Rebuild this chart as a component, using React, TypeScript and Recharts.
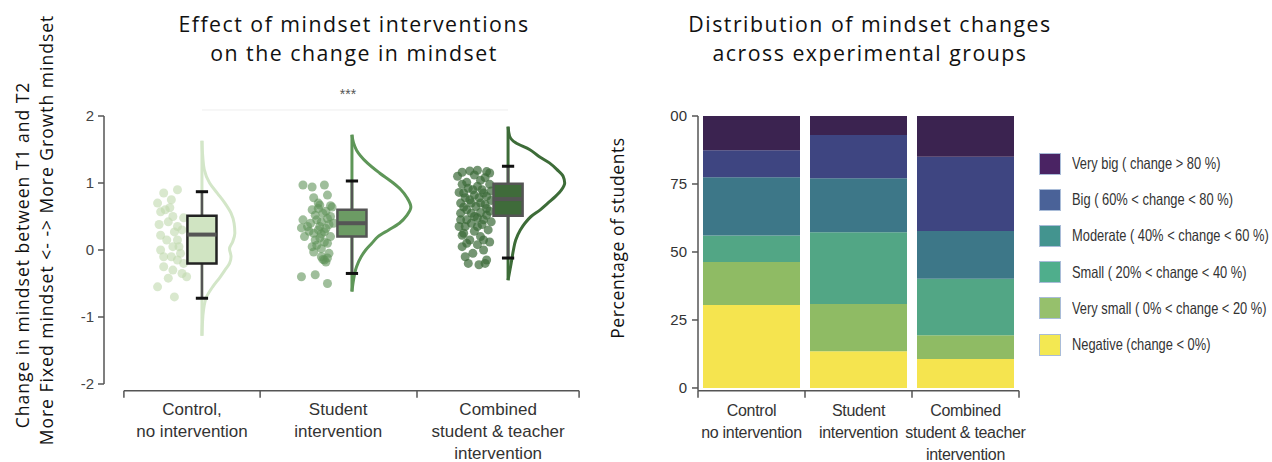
import React from 'react';
import {
  ComposedChart,
  Scatter,
  XAxis,
  YAxis,
  ReferenceArea,
  ReferenceLine,
  BarChart,
  Bar,
} from 'recharts';

// ---------- left panel: raincloud data ----------
const GROUP_LABELS = [
  ['Control,', 'no intervention'],
  ['Student', 'intervention'],
  ['Combined', 'student & teacher', 'intervention'],
];
const GROUP_CENTERS = [0, 0.98, 2.0];
const GROUP_EDGES = [-0.51, 0.38, 1.405, 2.464];
const LABEL_POS = [-0.065, 0.89, 1.935];
const Y_TICKS = [-2, -1, 0, 1, 2];
const SIG_Y = 2.09;

// [offset from group centre, change in mindset]
const controlPoints = [
  [-0.16, 0.9], [-0.25, 0.85], [-0.2, 0.75], [-0.29, 0.7], [-0.27, 0.57], [-0.21, 0.63],
  [-0.19, 0.5], [-0.12, 0.48], [-0.22, 0.42], [-0.16, 0.35], [-0.18, 0.27], [-0.27, 0.22],
  [-0.23, 0.15], [-0.16, 0.15], [-0.27, 0.0], [-0.19, 0.05], [-0.14, -0.05], [-0.25, -0.1],
  [-0.16, -0.15], [-0.12, -0.2], [-0.25, -0.25], [-0.19, -0.3], [-0.13, -0.35], [-0.1, -0.4],
  [-0.22, -0.42], [-0.29, -0.55], [-0.18, -0.7], [-0.24, 0.6], [-0.15, 0.05], [-0.2, -0.1],
  [-0.13, 0.3], [-0.28, 0.38],
];
const studentPoints = [
  [-0.32, 0.97], [-0.26, 0.94], [-0.18, 0.97], [-0.25, 0.78], [-0.16, 0.82], [-0.21, 0.67],
  [-0.13, 0.64], [-0.26, 0.6], [-0.19, 0.55], [-0.32, 0.45], [-0.23, 0.45], [-0.16, 0.47],
  [-0.29, 0.35], [-0.21, 0.35], [-0.33, 0.33], [-0.25, 0.25], [-0.18, 0.27], [-0.31, 0.2],
  [-0.21, 0.18], [-0.23, 0.07], [-0.16, 0.1], [-0.25, -0.03], [-0.2, -0.1], [-0.18, -0.15],
  [-0.16, -0.12], [-0.33, -0.4], [-0.24, -0.37], [-0.16, -0.5], [-0.22, 0.62], [-0.17, 0.58],
  [-0.24, 0.52], [-0.14, 0.5], [-0.2, 0.42], [-0.27, 0.4], [-0.15, 0.38], [-0.22, 0.3],
  [-0.17, 0.32], [-0.12, 0.4], [-0.28, 0.28], [-0.2, 0.24], [-0.14, 0.2], [-0.24, 0.15],
  [-0.18, 0.12], [-0.26, 0.05], [-0.2, 0.02], [-0.15, -0.05], [-0.22, 0.7], [-0.14, 0.66],
  [-0.19, -0.14], [-0.17, -0.18],
];
const combinedPoints = [
  [-0.3, 1.16], [-0.2, 1.19], [-0.14, 1.17], [-0.27, 1.01], [-0.18, 1.04], [-0.23, 0.9],
  [-0.29, 0.85], [-0.16, 0.85], [-0.25, 0.75], [-0.18, 0.7], [-0.29, 0.64], [-0.14, 0.62],
  [-0.31, 0.45], [-0.22, 0.5], [-0.16, 0.45], [-0.28, 0.35], [-0.2, 0.35], [-0.3, 0.22],
  [-0.16, 0.15], [-0.27, 0.1], [-0.23, -0.05], [-0.14, -0.15], [-0.26, -0.2], [-0.15, -0.2],
  [-0.25, 1.18], [-0.12, 1.15], [-0.33, 1.1], [-0.22, 1.12], [-0.15, 1.08], [-0.3, 0.98],
  [-0.12, 0.98], [-0.2, 0.95], [-0.26, 0.92], [-0.17, 0.9], [-0.11, 0.88], [-0.32, 0.86],
  [-0.22, 0.82], [-0.14, 0.8], [-0.28, 0.78], [-0.19, 0.78], [-0.11, 0.74], [-0.24, 0.7],
  [-0.31, 0.7], [-0.15, 0.68], [-0.21, 0.65], [-0.27, 0.6], [-0.12, 0.58], [-0.18, 0.56],
  [-0.24, 0.55], [-0.31, 0.55], [-0.14, 0.52], [-0.2, 0.48], [-0.27, 0.45], [-0.11, 0.42],
  [-0.24, 0.4], [-0.17, 0.38], [-0.32, 0.35], [-0.13, 0.3], [-0.22, 0.28], [-0.29, 0.25],
  [-0.18, 0.2], [-0.25, 0.15], [-0.12, 0.12], [-0.2, 0.08], [-0.3, 0.05], [-0.16, 0.0],
  [-0.28, -0.1], [-0.19, -0.22],
];

// half-violin outline: [change in mindset, density width]
const controlViolin = [
  [1.63, 0], [1.4, 0.005], [1.2, 0.015], [1.0, 0.05], [0.85, 0.1], [0.7, 0.15], [0.55, 0.19],
  [0.4, 0.21], [0.25, 0.215], [0.12, 0.2], [0.02, 0.18], [-0.1, 0.19], [-0.2, 0.18],
  [-0.3, 0.15], [-0.4, 0.12], [-0.55, 0.07], [-0.7, 0.03], [-0.9, 0.01], [-1.1, 0.003], [-1.28, 0],
];
const studentViolin = [
  [1.72, 0], [1.6, 0.01], [1.49, 0.03], [1.3, 0.1], [1.15, 0.18], [1.0, 0.27], [0.9, 0.32],
  [0.78, 0.36], [0.64, 0.385], [0.52, 0.36], [0.4, 0.31], [0.3, 0.24], [0.2, 0.17], [0.1, 0.13],
  [0.0, 0.09], [-0.1, 0.06], [-0.25, 0.03], [-0.45, 0.01], [-0.62, 0],
];
const combinedViolin = [
  [1.84, 0], [1.7, 0.01], [1.6, 0.05], [1.5, 0.14], [1.4, 0.2], [1.3, 0.27], [1.2, 0.32],
  [1.1, 0.36], [1.0, 0.37], [0.9, 0.35], [0.8, 0.31], [0.7, 0.26], [0.6, 0.21], [0.5, 0.15],
  [0.4, 0.11], [0.3, 0.08], [0.15, 0.05], [0.0, 0.035], [-0.2, 0.02], [-0.45, 0],
];

// [min, q1, median, q3, max]
const controlBox = [-0.72, -0.2, 0.23, 0.51, 0.87];
const studentBox = [-0.35, 0.2, 0.4, 0.6, 1.03];
const combinedBox = [-0.12, 0.51, 0.76, 0.99, 1.25];

const RAIN_STYLE = [
  { point: '#bfd9ae', pointOpacity: 0.6, box: '#d0e4c2', boxStroke: '#222', violin: '#d3e6c8' },
  { point: '#5f9358', pointOpacity: 0.6, box: '#6c9b64', boxStroke: '#555', violin: '#5e9658' },
  { point: '#3b6a37', pointOpacity: 0.7, box: '#3f6b3a', boxStroke: '#555', violin: '#3d6c38' },
];

const groups = [
  { points: controlPoints, violin: controlViolin, box: controlBox },
  { points: studentPoints, violin: studentViolin, box: studentBox },
  { points: combinedPoints, violin: combinedViolin, box: combinedBox },
];

// ---------- right panel: stacked distribution ----------
const BAR_GROUPS = ['Control', 'Student', 'Combined'];
const BAR_GROUP_LABELS = [
  ['Control', 'no intervention'],
  ['Student', 'intervention'],
  ['Combined', 'student & teacher', 'intervention'],
];
const negative = [30.5, 13.5, 10.7];
const verySmall = [15.8, 17.4, 8.7];
const small = [9.8, 26.4, 20.8];
const moderate = [21.4, 19.8, 17.5];
const big = [9.9, 15.9, 27.3];
const veryBig = [12.6, 7.0, 15.0];
const PCT_TICKS = [0, 25, 50, 75, 100];

const SEGMENT_KEYS = ['negative', 'verySmall', 'small', 'moderate', 'big', 'veryBig'];
const SEGMENT_VALUES = [negative, verySmall, small, moderate, big, veryBig];
const SEGMENT_LABELS = [
  'Negative (change < 0%)',
  'Very small ( 0% < change < 20 %)',
  'Small ( 20% < change < 40 %)',
  'Moderate ( 40% < change < 60 %)',
  'Big ( 60% < change < 80 %)',
  'Very big ( change > 80 %)',
];
const SEGMENT_COLORS = ['#f5e44f', '#8fbb64', '#52a685', '#3d7788', '#3e4581', '#3b2350'];
const LEGEND_COLORS = ['#f3e852', '#96c06c', '#4fae8c', '#43948f', '#4a6298', '#4a2363'];

const LEFT_TITLE = ['Effect of mindset interventions', 'on the change in mindset'];
const RIGHT_TITLE = ['Distribution of mindset changes', 'across experimental groups'];

const barData = BAR_GROUPS.map((g, i) => {
  const row: Record<string, string | number> = { group: g };
  SEGMENT_KEYS.forEach((k, s) => {
    row[k] = SEGMENT_VALUES[s][i];
  });
  return row;
});

const AXIS = '#555';
const TICK_FONT = "'Liberation Sans', Arial, sans-serif";
const TITLE_FONT = "'Open Sans', Lato, sans-serif";

function RainTick(props: any) {
  const { x, y, payload } = props;
  if (GROUP_EDGES.indexOf(payload.value) >= 0) {
    return <line x1={x} x2={x} y1={y} y2={y + 7} stroke={AXIS} strokeWidth={1.5} />;
  }
  const lines = GROUP_LABELS[LABEL_POS.indexOf(payload.value)] || [];
  return (
    <text x={x} y={y} textAnchor="middle" fill="#333" fontSize={17} fontFamily={TICK_FONT}>
      {lines.map((l, i) => (
        <tspan key={i} x={x} dy={i === 0 ? 24 : 22}>
          {l}
        </tspan>
      ))}
    </text>
  );
}

function BarTick(props: any) {
  const { x, y, payload } = props;
  const i = BAR_GROUPS.indexOf(payload.value);
  const half = payload.offset ?? 53.5;
  const lines = BAR_GROUP_LABELS[i] || [];
  return (
    <g>
      <line x1={x - half} x2={x - half} y1={y} y2={y + 7} stroke={AXIS} strokeWidth={1.5} />
      {i === BAR_GROUPS.length - 1 && (
        <line x1={x + half} x2={x + half} y1={y} y2={y + 7} stroke={AXIS} strokeWidth={1.5} />
      )}
      <text
        x={x}
        y={y}
        textAnchor="middle"
        fill="#333"
        fontSize={16}
        letterSpacing={-0.3}
        fontFamily={TICK_FONT}
      >
        {lines.map((l, k) => (
          <tspan key={k} x={x} dy={k === 0 ? 25 : 22}>
            {l}
          </tspan>
        ))}
      </text>
    </g>
  );
}

function RaincloudChart() {
  return (
    <ComposedChart width={600} height={462} margin={{ top: 82.5, right: 20, bottom: 11.3, left: 0 }}>
      <XAxis
        type="number"
        dataKey="x"
        domain={[-0.64, 2.47]}
        ticks={[...GROUP_EDGES, ...LABEL_POS]}
        interval={0}
        height={60}
        axisLine={false}
        tickLine={false}
        tickSize={0}
        tickMargin={0}
        tick={<RainTick />}
        allowDataOverflow
      />
      <YAxis
        type="number"
        dataKey="y"
        domain={[-2.1, 2.5]}
        ticks={Y_TICKS}
        width={104}
        axisLine={false}
        tickLine={{ stroke: AXIS, strokeWidth: 1.5 }}
        tickSize={6}
        tickMargin={4}
        tick={{ fill: '#444', fontSize: 15, fontFamily: TICK_FONT }}
        allowDataOverflow
      />
      <ReferenceLine
        segment={[{ x: GROUP_EDGES[0], y: -2.1 }, { x: GROUP_EDGES[3], y: -2.1 }]}
        stroke={AXIS}
        strokeWidth={1.5}
        ifOverflow="visible"
      />
      <ReferenceLine
        segment={[{ x: -0.64, y: Y_TICKS[0] }, { x: -0.64, y: Y_TICKS[4] }]}
        stroke={AXIS}
        strokeWidth={1.5}
        ifOverflow="visible"
      />
      <ReferenceLine
        segment={[{ x: GROUP_CENTERS[0], y: SIG_Y }, { x: GROUP_CENTERS[2], y: SIG_Y }]}
        stroke="#eeeeee"
        strokeWidth={1}
        ifOverflow="visible"
        label={{ value: '***', position: 'top', offset: 11, dx: -7, fill: '#555', fontSize: 14, fontFamily: TICK_FONT }}
      />
      {groups.map((g, gi) => {
        const c = GROUP_CENTERS[gi];
        const st = RAIN_STYLE[gi];
        const curve = g.violin.map(([v, w]) => ({ x: c + w, y: v }));
        const top = g.violin[0][0];
        const bottom = g.violin[g.violin.length - 1][0];
        return [
          <ReferenceLine
            key={`base${gi}`}
            segment={[{ x: c, y: top }, { x: c, y: bottom }]}
            stroke={st.violin}
            strokeWidth={3}
            zIndex={100}
          />,
          <Scatter
            key={`violin${gi}`}
            data={curve}
            fill={st.violin}
            line={{ stroke: st.violin, strokeWidth: 3 }}
            lineJointType="monotoneY"
            shape={() => <g />}
            isAnimationActive={false}
            zIndex={100}
          />,
        ];
      })}
      {groups.map((g, gi) => {
        const c = GROUP_CENTERS[gi];
        const st = RAIN_STYLE[gi];
        return (
          <Scatter
            key={`pts${gi}`}
            data={g.points.map(([dx, v]) => ({ x: c + dx, y: v }))}
            fill={st.point}
            shape={(p: any) => (
              <circle cx={p.cx} cy={p.cy} r={4.5} fill={st.point} fillOpacity={st.pointOpacity} />
            )}
            isAnimationActive={false}
            zIndex={150}
          />
        );
      })}
      {groups.map((g, gi) => {
        const c = GROUP_CENTERS[gi];
        const st = RAIN_STYLE[gi];
        const [mn, q1, med, q3, mx] = g.box;
        const hw = 0.095;
        const cap = 0.04;
        return [
          <ReferenceLine key={`wt${gi}`} segment={[{ x: c, y: q3 }, { x: c, y: mx }]} stroke="#555" strokeWidth={2.5} zIndex={200} />,
          <ReferenceLine key={`wb${gi}`} segment={[{ x: c, y: q1 }, { x: c, y: mn }]} stroke="#555" strokeWidth={2.5} zIndex={200} />,
          <ReferenceLine key={`ct${gi}`} segment={[{ x: c - cap, y: mx }, { x: c + cap, y: mx }]} stroke="#111" strokeWidth={3} zIndex={200} />,
          <ReferenceLine key={`cb${gi}`} segment={[{ x: c - cap, y: mn }, { x: c + cap, y: mn }]} stroke="#111" strokeWidth={3} zIndex={200} />,
          <ReferenceArea
            key={`box${gi}`}
            x1={c - hw}
            x2={c + hw}
            y1={q1}
            y2={q3}
            fill={st.box}
            fillOpacity={1}
            stroke={st.boxStroke}
            strokeWidth={2.5}
            ifOverflow="visible"
            zIndex={210}
          />,
          <ReferenceLine key={`md${gi}`} segment={[{ x: c - hw, y: med }, { x: c + hw, y: med }]} stroke="#555" strokeWidth={4} zIndex={220} />,
        ];
      })}
    </ComposedChart>
  );
}

function DistributionChart() {
  return (
    <BarChart
      width={672}
      height={462}
      data={barData}
      margin={{ top: 116, right: 253, bottom: 11.3, left: 0 }}
      barCategoryGap={5}
    >
      <XAxis
        dataKey="group"
        height={60}
        axisLine={{ stroke: AXIS, strokeWidth: 1.5 }}
        tickLine={false}
        tickSize={0}
        tickMargin={0}
        interval={0}
        tick={<BarTick />}
      />
      <YAxis
        type="number"
        domain={[-1, 100]}
        ticks={PCT_TICKS}
        width={98}
        tickFormatter={(v: number) => (v === 100 ? '00' : String(v))}
        axisLine={{ stroke: AXIS, strokeWidth: 1.5 }}
        tickLine={{ stroke: AXIS, strokeWidth: 1.5 }}
        tickSize={6}
        tickMargin={5}
        tick={{ fill: '#333', fontSize: 15, fontFamily: TICK_FONT }}
        allowDataOverflow
      />
      {SEGMENT_KEYS.map((k, s) => (
        <Bar key={k} dataKey={k} stackId="a" fill={SEGMENT_COLORS[s]} isAnimationActive={false} />
      ))}
    </BarChart>
  );
}

const titleLine = (cx: number, cy: number): React.CSSProperties => ({
  position: 'absolute',
  left: cx - 250,
  top: cy - 14.5,
  width: 500,
  height: 29,
  textAlign: 'center',
  fontFamily: TITLE_FONT,
  fontSize: 21.3,
  letterSpacing: 1.5,
  lineHeight: '29px',
  color: '#111',
  whiteSpace: 'nowrap',
});

const rotated = (cx: number, cy: number, size: number, spacing: number): React.CSSProperties => ({
  position: 'absolute',
  left: cx,
  top: cy,
  transform: 'translate(-50%, -50%) rotate(-90deg)',
  whiteSpace: 'nowrap',
  fontFamily: TITLE_FONT,
  fontSize: size,
  letterSpacing: spacing,
  lineHeight: '22px',
  color: '#111',
});

export default function App() {
  return (
    <div
      style={{
        position: 'absolute',
        left: 0,
        top: 0,
        width: 1272,
        height: 462,
        background: '#fff',
        overflow: 'hidden',
      }}
    >
      <div style={{ position: 'absolute', left: 0, top: 0 }}>
        <RaincloudChart />
      </div>
      <div style={{ position: 'absolute', left: 600, top: 0 }}>
        <DistributionChart />
      </div>

      {LEFT_TITLE.map((t, i) => (
        <div key={`lt${i}`} style={titleLine(354, 23 + i * 29)}>
          {t}
        </div>
      ))}
      {RIGHT_TITLE.map((t, i) => (
        <div key={`rt${i}`} style={titleLine(870, 23 + i * 29)}>
          {t}
        </div>
      ))}

      <div style={rotated(22, 255, 17.5, 1)}>Change in mindset between T1 and T2</div>
      <div style={rotated(46, 230, 17.5, 1)}>More Fixed mindset &lt;- -&gt; More Growth mindset</div>
      <div style={rotated(617, 238, 17.5, 0.6)}>Percentage of students</div>

      <div style={{ position: 'absolute', left: 1039, top: 145.5 }}>
        {SEGMENT_LABELS.map((_, idx) => {
          const s = SEGMENT_LABELS.length - 1 - idx;
          return (
            <div key={s} style={{ display: 'flex', alignItems: 'center', height: 36.2 }}>
              <div
                style={{
                  width: 20,
                  height: 20,
                  background: LEGEND_COLORS[s],
                  border: '1.5px solid #a9bcd8',
                  flex: 'none',
                }}
              />
              <span
                style={{
                  display: 'inline-block',
                  marginLeft: 11,
                  fontFamily: TICK_FONT,
                  fontSize: 16.5,
                  color: '#333',
                  whiteSpace: 'nowrap',
                  transform: 'scaleX(0.78)',
                  transformOrigin: 'left center',
                }}
              >
                {SEGMENT_LABELS[s]}
              </span>
            </div>
          );
        })}
      </div>
    </div>
  );
}
